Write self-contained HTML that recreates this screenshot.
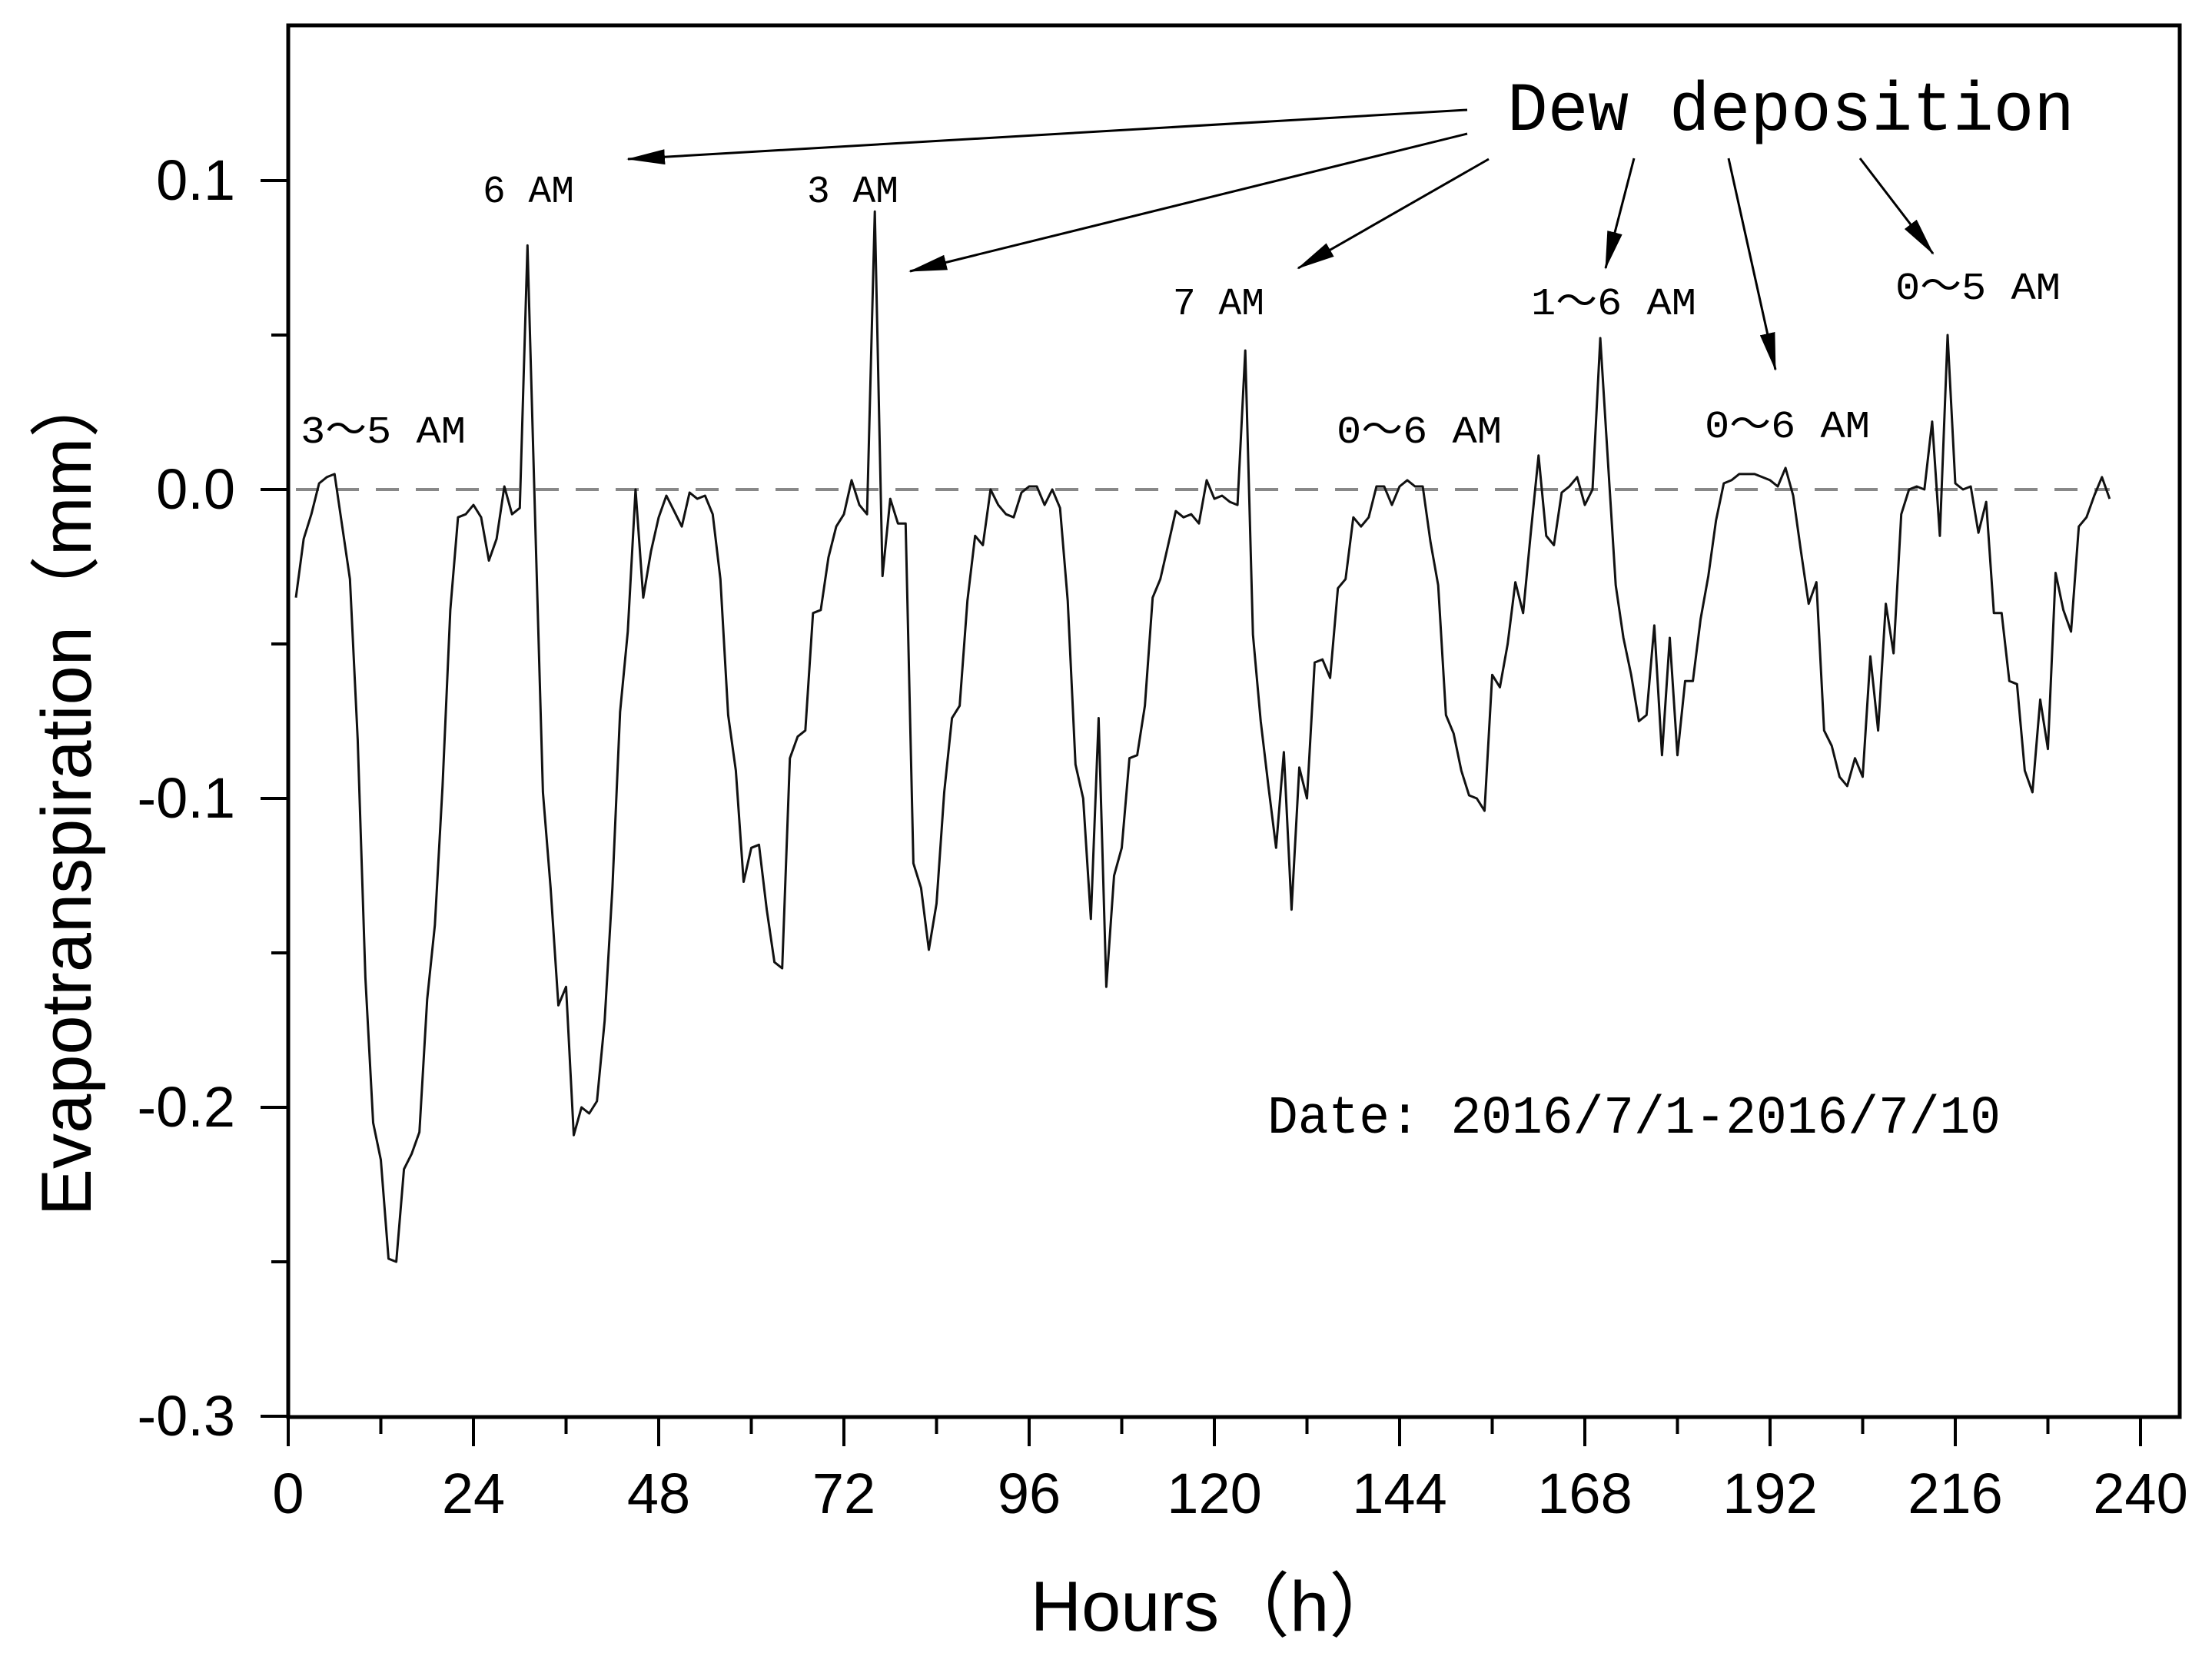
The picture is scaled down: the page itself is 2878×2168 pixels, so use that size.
<!DOCTYPE html>
<html><head><meta charset="utf-8"><style>
html,body{margin:0;padding:0;background:#fff;}
svg{display:block;}
</style></head><body>
<svg id="chart" width="2878" height="2168" viewBox="0 0 2878 2168" xmlns="http://www.w3.org/2000/svg">
<defs>
<marker id="ah" markerWidth="50" markerHeight="20" refX="48" refY="10" orient="auto" markerUnits="userSpaceOnUse" viewBox="0 0 50 20">
<path d="M0,0 L50,10 L0,20 Z" fill="#000"/>
</marker>
</defs>
<rect x="375" y="33" width="2461" height="1811" fill="none" stroke="#000" stroke-width="5"/>
<g id="ticks"></g>
<line id="zero-line" stroke="#888" stroke-width="4" stroke-dasharray="30,22"/>
<polyline id="series" fill="none" stroke="#111" stroke-width="3" stroke-linejoin="round"/>
<text x="1581" y="2122" text-anchor="middle" font-size="92" font-family="Liberation Sans, Noto Sans CJK SC, sans-serif">Hours（h）</text>
<text transform="translate(118,1030) rotate(-90)" text-anchor="middle" font-size="92" font-family="Liberation Sans, Noto Sans CJK SC, sans-serif">Evapotranspiration（mm）</text>
<text x="1961" y="169" textLength="738" lengthAdjust="spacingAndGlyphs" font-size="90" font-family="Liberation Mono, monospace">Dew deposition</text>
<g font-family="Liberation Mono, Noto Sans CJK SC, monospace" font-size="50">
<text x="391" y="576" textLength="215" lengthAdjust="spacingAndGlyphs">3～5 AM</text>
<text x="628" y="263" textLength="119" lengthAdjust="spacingAndGlyphs">6 AM</text>
<text x="1050" y="263" textLength="119" lengthAdjust="spacingAndGlyphs">3 AM</text>
<text x="1526" y="409" textLength="119" lengthAdjust="spacingAndGlyphs">7 AM</text>
<text x="1739" y="576" textLength="215" lengthAdjust="spacingAndGlyphs">0～6 AM</text>
<text x="1992" y="409" textLength="215" lengthAdjust="spacingAndGlyphs">1～6 AM</text>
<text x="2218" y="569" textLength="215" lengthAdjust="spacingAndGlyphs">0～6 AM</text>
<text x="2466" y="389" textLength="215" lengthAdjust="spacingAndGlyphs">0～5 AM</text>
</g>
<text x="1649" y="1474" textLength="954" lengthAdjust="spacingAndGlyphs" font-size="70" font-family="Liberation Mono, monospace">Date: 2016/7/1-2016/7/10</text>
<g stroke="#000" stroke-width="3" marker-end="url(#ah)">
<line x1="1909" y1="143" x2="817" y2="207"/>
<line x1="1909" y1="174" x2="1184" y2="353"/>
<line x1="1937" y1="207" x2="1689" y2="349"/>
<line x1="2126" y1="206" x2="2089" y2="349"/>
<line x1="2249" y1="206" x2="2310" y2="481"/>
<line x1="2420" y1="206" x2="2515" y2="330"/>
</g>
</svg>
<script>
const hours = [];
for (let h = 1; h <= 236; h++) hours.push(h);
const values = [
-0.035,-0.016,-0.008,0.002,0.004,0.005,-0.012,-0.029,-0.081,-0.158,
-0.205,-0.217,-0.249,-0.25,-0.22,-0.215,-0.208,-0.165,-0.141,-0.096,
-0.039,-0.009,-0.008,-0.005,-0.009,-0.023,-0.016,0.001,-0.008,-0.006,
0.079,-0.01,-0.098,-0.129,-0.167,-0.161,-0.209,-0.2,-0.202,-0.198,
-0.172,-0.129,-0.072,-0.046,0,-0.035,-0.02,-0.009,-0.002,-0.007,
-0.012,-0.001,-0.003,-0.002,-0.008,-0.029,-0.073,-0.091,-0.127,-0.116,
-0.115,-0.136,-0.153,-0.155,-0.087,-0.08,-0.078,-0.04,-0.039,-0.022,
-0.012,-0.008,0.003,-0.005,-0.008,0.09,-0.028,-0.003,-0.011,-0.011,
-0.121,-0.129,-0.149,-0.134,-0.098,-0.074,-0.07,-0.036,-0.015,-0.018,
0,-0.005,-0.008,-0.009,-0.001,0.001,0.001,-0.005,0,-0.006,
-0.036,-0.089,-0.1,-0.139,-0.074,-0.161,-0.125,-0.116,-0.087,-0.086,
-0.07,-0.035,-0.029,-0.018,-0.007,-0.009,-0.008,-0.011,0.003,-0.003,
-0.002,-0.004,-0.005,0.045,-0.047,-0.075,-0.096,-0.116,-0.085,-0.136,
-0.09,-0.1,-0.056,-0.055,-0.061,-0.032,-0.029,-0.009,-0.012,-0.009,
0.001,0.001,-0.005,0.001,0.003,0.001,0.001,-0.017,-0.031,-0.073,
-0.079,-0.091,-0.099,-0.1,-0.104,-0.06,-0.064,-0.05,-0.03,-0.04,
-0.014,0.011,-0.015,-0.018,-0.001,0.001,0.004,-0.005,0,0.049,
0.009,-0.031,-0.048,-0.06,-0.075,-0.073,-0.044,-0.086,-0.048,-0.086,
-0.062,-0.062,-0.042,-0.028,-0.01,0.002,0.003,0.005,0.005,0.005,
0.004,0.003,0.001,0.007,-0.002,-0.02,-0.037,-0.03,-0.078,-0.083,
-0.093,-0.096,-0.087,-0.093,-0.054,-0.078,-0.037,-0.053,-0.008,0,
0.001,0,0.022,-0.015,0.05,0.002,0,0.001,-0.014,-0.004,
-0.04,-0.04,-0.062,-0.063,-0.091,-0.098,-0.068,-0.084,-0.027,-0.039,
-0.046,-0.012,-0.009,-0.002,0.004,-0.003
];
const xTickLabels = ["0","24","48","72","96","120","144","168","192","216","240"];
const yTickLabels = ["-0.3","-0.2","-0.1","0.0","0.1"];

const X0 = 375, X1 = 2785, XMIN = 0, XMAX = 240;
const Y0 = 637, YPER = 4020;
function xs(v){ return X0 + (v - XMIN) / (XMAX - XMIN) * (X1 - X0); }
function ys(v){ return Y0 - v * YPER; }

const NS = "http://www.w3.org/2000/svg";
const g = document.getElementById("ticks");
function mk(tag, attrs){ const e = document.createElementNS(NS, tag); for (const k in attrs) e.setAttribute(k, attrs[k]); return e; }

const pts = hours.map((h, i) => xs(h).toFixed(1) + "," + ys(values[i]).toFixed(1)).join(" ");
document.getElementById("series").setAttribute("points", pts);

const zl = document.getElementById("zero-line");
zl.setAttribute("x1", xs(hours[0])); zl.setAttribute("x2", xs(hours[hours.length-1]));
zl.setAttribute("y1", ys(0)); zl.setAttribute("y2", ys(0));

const BOT = 1844;
for (let t = 0; t <= 240; t += 12) {
  const major = t % 24 === 0;
  const ln = mk("line", {x1: xs(t), x2: xs(t), y1: BOT, y2: BOT + (major ? 38 : 22), stroke: "#000", "stroke-width": 4});
  
  
  g.appendChild(ln);
}
xTickLabels.forEach(s => {
  const v = parseFloat(s);
  const t = mk("text", {x: xs(v), y: 1969, "text-anchor": "middle", "font-size": 74, "font-family": "Liberation Sans, sans-serif"});
  t.textContent = s;
  
  
  g.appendChild(t);
});
for (let k = -6; k <= 2; k++) {
  const v = k * 0.05;
  const major = k % 2 === 0;
  const ln = mk("line", {x1: X0 - (major ? 36 : 22), x2: X0, y1: ys(v), y2: ys(v), stroke: "#000", "stroke-width": 4});
  
  
  g.appendChild(ln);
}
yTickLabels.forEach(s => {
  const v = parseFloat(s);
  const t = mk("text", {x: 306, y: ys(v) + 25, "text-anchor": "end", "font-size": 74, "font-family": "Liberation Sans, sans-serif"});
  t.textContent = s;
  
  
  g.appendChild(t);
});
</script>
</body></html>
